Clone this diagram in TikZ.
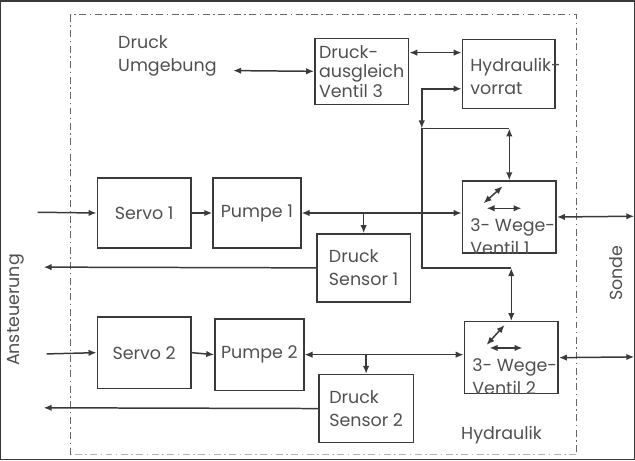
\documentclass[tikz,border=0pt]{standalone}
\usepackage{fontspec}
\setmainfont{Poppins}
\usetikzlibrary{arrows.meta,positioning}
\definecolor{ln}{HTML}{3A3A3A}
\definecolor{tx}{HTML}{505050}
\begin{document}
\begin{tikzpicture}[x=1pt,y=-1pt,
  font=\fontsize{17.5}{23}\selectfont,
  >={Latex[length=8pt,width=6.5pt]},
  every path/.style={draw=ln,line width=1.5pt},
  box/.style={draw=ln,line width=1.5pt,anchor=north west,inner sep=0pt,text=tx},
  lbl/.style={text=tx,inner sep=0pt},
  frame/.style={draw=black!60,line width=1.1pt,dash pattern=on 7pt off 3.5pt on 1.5pt off 3.5pt}]
\useasboundingbox (0,0) rectangle (635,460);
% frame
\draw[frame,draw=black!30] (577,455) -- (70,455);
\draw[frame] (70,455) -- (70,14) -- (577,14) -- (577,455);
% boxes
\node[box,minimum width=94pt,minimum height=66pt,align=left,font=\fontsize{17.5}{19.5}\selectfont] (ausgl) at (314,37) {Druck-\\ausgleich\\Ventil 3};
\node[box,minimum width=93pt,minimum height=69pt] (vorrat) at (462,38) {};
\node[lbl,align=left,anchor=north west] (vorrattxt) at (470,57) {Hydraulik-\\vorrat};
\node[box,minimum width=94pt,minimum height=70pt] (servo1) at (96,177) {Servo 1};
\node[box,minimum width=88pt,minimum height=70pt] (pumpe1) at (212,177) {Pumpe 1};
\node[box,minimum width=94pt,minimum height=68pt,align=left] (sensor1) at (316,233) {Druck\\Sensor 1};
\node[box,minimum width=94pt,minimum height=72pt] (valve1) at (462,180) {};
\node[lbl,align=left,anchor=south west] (valve1txt) at (470,255) {3- Wege-\\Ventil 1};
\node[box,minimum width=94pt,minimum height=72pt] (servo2) at (96,316) {Servo 2};
\node[box,minimum width=89pt,minimum height=72pt] (pumpe2) at (214,318) {Pumpe 2};
\node[box,minimum width=95pt,minimum height=68pt,align=left] (sensor2) at (318,374) {Druck\\Sensor 2};
\node[box,minimum width=94pt,minimum height=72pt] (valve2) at (464,321) {};
\node[lbl,align=left,anchor=south west] (valve2txt) at (472,396) {3- Wege-\\Ventil 2};
% labels
\node[lbl,align=left,anchor=north west] (umg) at (117,34) {Druck\\Umgebung};
\node[lbl,rotate=90] (anst) at (15,310) {Ansteuerung};
\node[lbl,rotate=90] (sonde) at (617,273) {Sonde};
\node[lbl] (hydr) at (502,435) {Hydraulik};
% coordinates
\coordinate (in1) at (37,212);
\coordinate (in2) at (46,354);
\coordinate (out1) at (43,267);
\coordinate (out2) at (43,408);
\coordinate (s1) at (635,216);
\coordinate (s2) at (635,357);
\coordinate (u) at (233,70);
\coordinate (j1) at (422,128);
\coordinate (j2) at (valve1.north |- j1);
\coordinate (j3) at (422,268);
\coordinate (j4) at (valve2.north |- j3);
\coordinate (b1) at (sensor1.north |- pumpe1.east);
\coordinate (b2) at (sensor2.north |- pumpe2.east);
% connectors top
\draw[<->] (u) -- (ausgl.west);
\draw[<->] ([yshift=-15pt]ausgl.north east) -- ([yshift=-15pt]ausgl.north east -| vorrat.west);
\draw[<->] (j1) |- ([yshift=-15pt]vorrat.west);
\draw (j1) -- (j2);
\draw[<->] (j2) -- (valve1.north);
\draw (j1) -- (j3) -- (j4);
\draw[<->] (j4) -- (valve2.north);
% row 1
\draw[->] (in1) -- (servo1.west);
\draw[->] (servo1.east) -- (pumpe1.west);
\draw[<->] (pumpe1.east) -- (pumpe1.east -| valve1.west);
\draw[->] (b1) -- (sensor1.north);
\draw[->] (sensor1.west) -- (out1);
\draw[<->] (valve1.east) -- (s1);
% row 2
\draw[->] (in2) -- (servo2.west);
\draw[->] (servo2.east) -- (pumpe2.west);
\draw[<->] (pumpe2.east) -- (pumpe2.east -| valve2.west);
\draw[->] (b2) -- (sensor2.north);
\draw[->] (sensor2.west) -- (out2);
\draw[<->] (valve2.east) -- (s2);
% valve symbols
\draw[<->] ([shift={(22,23)}]valve1.north west) -- ([shift={(41,6)}]valve1.north west);
\draw[<->] ([shift={(25,28)}]valve1.north west) -- ([shift={(60,28)}]valve1.north west);
\draw[<->] ([shift={(23,24)}]valve2.north west) -- ([shift={(41,4)}]valve2.north west);
\draw[<->] ([shift={(26,27)}]valve2.north west) -- ([shift={(59,27)}]valve2.north west);
\end{tikzpicture}
\end{document}
